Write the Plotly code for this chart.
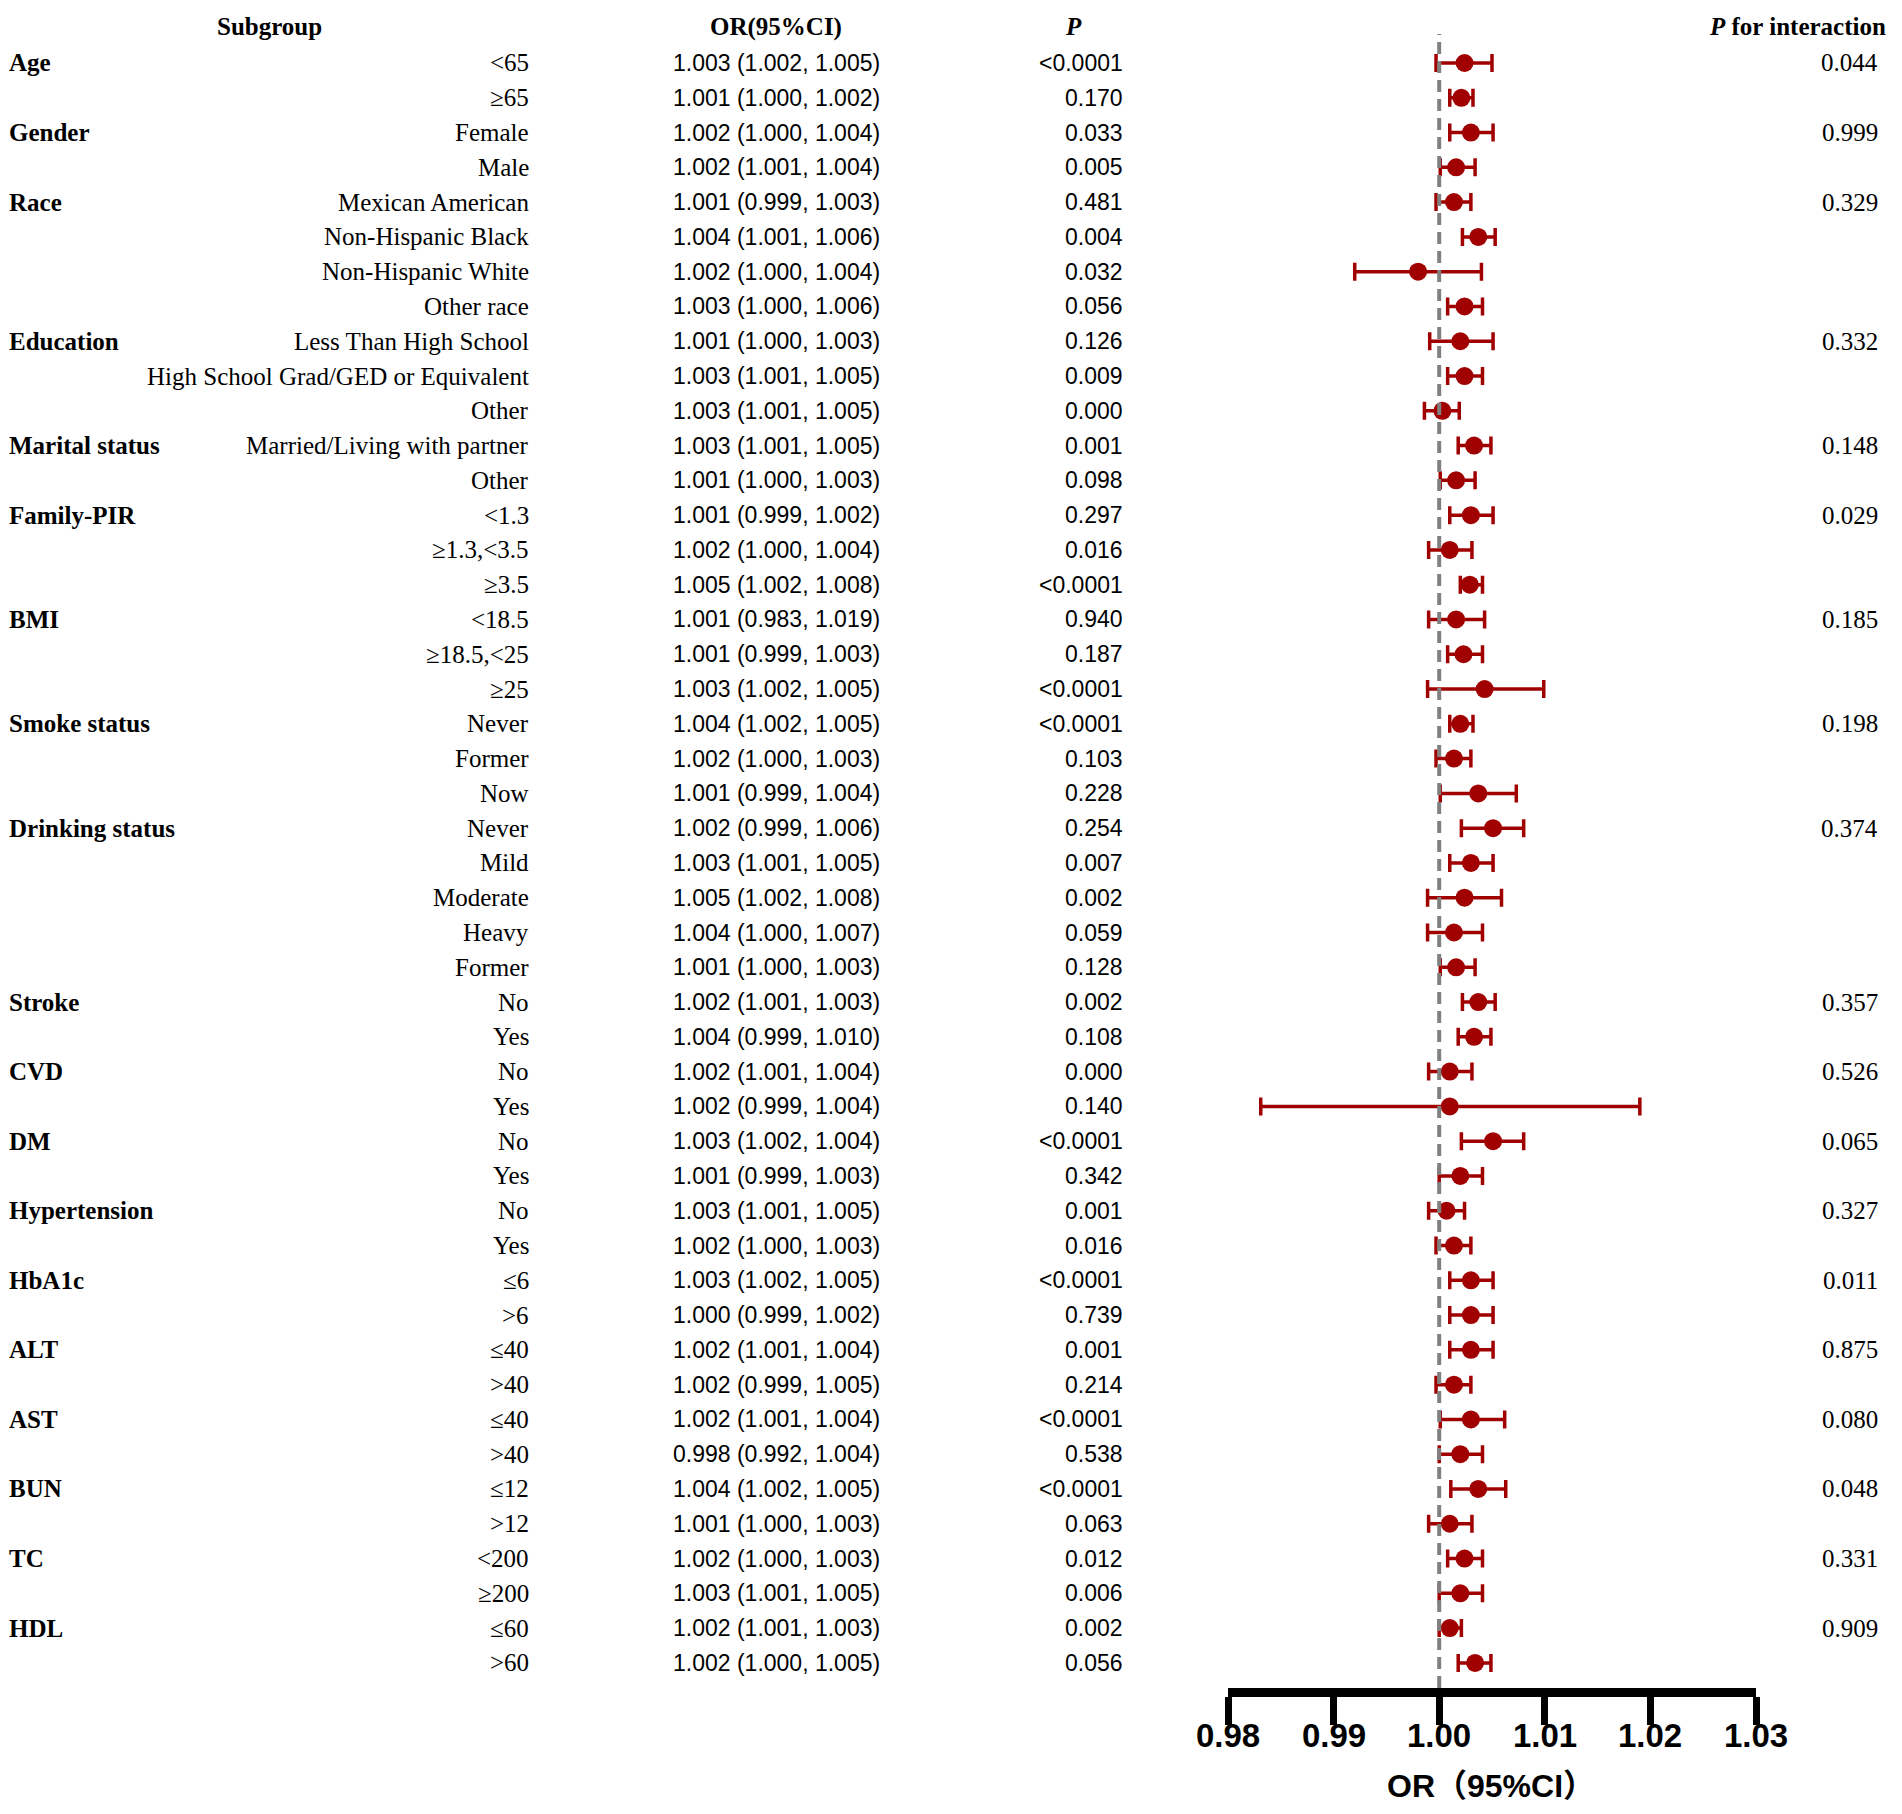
import plotly.graph_objects as go

# ---- data ----
groups = ["Age", "Gender", "Race", "Education", "Marital status", "Family-PIR", "BMI",
          "Smoke status", "Drinking status", "Stroke", "CVD", "DM", "Hypertension",
          "HbA1c", "ALT", "AST", "BUN", "TC", "HDL"]
group_sizes = [2, 2, 4, 3, 2, 3, 3, 3, 5, 2, 2, 2, 2, 2, 2, 2, 2, 2, 2]
p_interaction = ["0.044", "0.999", "0.329", "0.332", "0.148", "0.029", "0.185", "0.198",
                 "0.374", "0.357", "0.526", "0.065", "0.327", "0.011", "0.875", "0.080",
                 "0.048", "0.331", "0.909"]

subgroups = ["<65", "≥65", "Female", "Male", "Mexican American", "Non-Hispanic Black",
             "Non-Hispanic White", "Other race", "Less Than High School",
             "High School Grad/GED or Equivalent", "Other", "Married/Living with partner",
             "Other", "<1.3", "≥1.3,<3.5", "≥3.5", "<18.5", "≥18.5,<25", "≥25",
             "Never", "Former", "Now", "Never", "Mild", "Moderate", "Heavy", "Former",
             "No", "Yes", "No", "Yes", "No", "Yes", "No", "Yes", "≤6", ">6", "≤40", ">40",
             "≤40", ">40", "≤12", ">12", "<200", "≥200", "≤60", ">60"]

or_text = ["1.003 (1.002, 1.005)", "1.001 (1.000, 1.002)", "1.002 (1.000, 1.004)",
           "1.002 (1.001, 1.004)", "1.001 (0.999, 1.003)", "1.004 (1.001, 1.006)",
           "1.002 (1.000, 1.004)", "1.003 (1.000, 1.006)", "1.001 (1.000, 1.003)",
           "1.003 (1.001, 1.005)", "1.003 (1.001, 1.005)", "1.003 (1.001, 1.005)",
           "1.001 (1.000, 1.003)", "1.001 (0.999, 1.002)", "1.002 (1.000, 1.004)",
           "1.005 (1.002, 1.008)", "1.001 (0.983, 1.019)", "1.001 (0.999, 1.003)",
           "1.003 (1.002, 1.005)", "1.004 (1.002, 1.005)", "1.002 (1.000, 1.003)",
           "1.001 (0.999, 1.004)", "1.002 (0.999, 1.006)", "1.003 (1.001, 1.005)",
           "1.005 (1.002, 1.008)", "1.004 (1.000, 1.007)", "1.001 (1.000, 1.003)",
           "1.002 (1.001, 1.003)", "1.004 (0.999, 1.010)", "1.002 (1.001, 1.004)",
           "1.002 (0.999, 1.004)", "1.003 (1.002, 1.004)", "1.001 (0.999, 1.003)",
           "1.003 (1.001, 1.005)", "1.002 (1.000, 1.003)", "1.003 (1.002, 1.005)",
           "1.000 (0.999, 1.002)", "1.002 (1.001, 1.004)", "1.002 (0.999, 1.005)",
           "1.002 (1.001, 1.004)", "0.998 (0.992, 1.004)", "1.004 (1.002, 1.005)",
           "1.001 (1.000, 1.003)", "1.002 (1.000, 1.003)", "1.003 (1.001, 1.005)",
           "1.002 (1.001, 1.003)", "1.002 (1.000, 1.005)"]

p_values = ["<0.0001", "0.170", "0.033", "0.005", "0.481", "0.004", "0.032", "0.056",
            "0.126", "0.009", "0.000", "0.001", "0.098", "0.297", "0.016", "<0.0001",
            "0.940", "0.187", "<0.0001", "<0.0001", "0.103", "0.228", "0.254", "0.007",
            "0.002", "0.059", "0.128", "0.002", "0.108", "0.000", "0.140", "<0.0001",
            "0.342", "0.001", "0.016", "<0.0001", "0.739", "0.001", "0.214", "<0.0001",
            "0.538", "<0.0001", "0.063", "0.012", "0.006", "0.002", "0.056"]

# plotted points (as drawn in the figure)
or_point = [1.0024, 1.0021, 1.0030, 1.0016, 1.0014, 1.0037, 0.9980, 1.0024, 1.0020,
            1.0024, 1.0003, 1.0033, 1.0016, 1.0030, 1.0010, 1.0029, 1.0016, 1.0023,
            1.0043, 1.0020, 1.0014, 1.0037, 1.0051, 1.0030, 1.0024, 1.0014, 1.0016,
            1.0037, 1.0033, 1.0010, 1.0010, 1.0051, 1.0020, 1.0007, 1.0014, 1.0030,
            1.0030, 1.0030, 1.0014, 1.0030, 1.0020, 1.0037, 1.0010, 1.0024, 1.0020,
            1.0010, 1.0034]
ci_low = [0.9997, 1.0010, 1.0010, 1.0001, 0.9997, 1.0022, 0.9920, 1.0008, 0.9991,
          1.0008, 0.9986, 1.0018, 1.0001, 1.0010, 0.9990, 1.0020, 0.9990, 1.0008,
          0.9989, 1.0010, 0.9997, 1.0001, 1.0021, 1.0010, 0.9989, 0.9989, 1.0001,
          1.0022, 1.0018, 0.9990, 0.9831, 1.0021, 1.0000, 0.9990, 0.9997, 1.0010,
          1.0010, 1.0010, 0.9997, 1.0001, 1.0000, 1.0011, 0.9990, 1.0008, 1.0000,
          1.0000, 1.0018]
ci_high = [1.0050, 1.0032, 1.0051, 1.0034, 1.0030, 1.0053, 1.0040, 1.0041, 1.0051,
           1.0041, 1.0019, 1.0049, 1.0034, 1.0051, 1.0031, 1.0041, 1.0043, 1.0041,
           1.0099, 1.0032, 1.0030, 1.0073, 1.0080, 1.0051, 1.0059, 1.0041, 1.0034,
           1.0053, 1.0049, 1.0031, 1.0190, 1.0080, 1.0041, 1.0024, 1.0030, 1.0051,
           1.0051, 1.0051, 1.0030, 1.0062, 1.0041, 1.0063, 1.0031, 1.0041, 1.0041,
           1.0021, 1.0049]

x_ticks = [0.98, 0.99, 1.00, 1.01, 1.02, 1.03]

W, H = 1902, 1814
rows = list(range(len(subgroups)))
RED = "#A00000"
SERIF = "Liberation Serif, Times New Roman, serif"
SANS = "Liberation Sans, Arial, sans-serif"


def px(x):
    return x / W


def py(y):
    return 1 - y / H


fig = go.Figure()

fig.add_trace(go.Scatter(
    x=or_point, y=rows, mode="markers",
    marker=dict(size=18, color=RED, symbol="circle"),
    error_x=dict(type="data", symmetric=False,
                 array=[h - p for h, p in zip(ci_high, or_point)],
                 arrayminus=[p - l for p, l in zip(or_point, ci_low)],
                 color=RED, thickness=3.5, width=9),
    cliponaxis=False, showlegend=False, hoverinfo="skip"))

ann = []
txt = dict(family=SERIF, size=25, color="black")
num = dict(family=SANS, size=23, color="black")

# headers
hy = -1.04
ann.append(dict(x=px(269), y=hy, text="<b>Subgroup</b>", xanchor="center", font=txt))
ann.append(dict(x=px(776), y=hy, text="<b>OR(95%CI)</b>", xanchor="center", font=txt))
ann.append(dict(x=px(1073), y=hy, text="<b><i>P</i></b>", xanchor="center", font=txt))
ann.append(dict(x=px(1888), y=hy, text="<b><i>P</i> for interaction</b>",
                xanchor="right", font=txt))

# group labels and interaction p
start = 0
for g, n, pi in zip(groups, group_sizes, p_interaction):
    ann.append(dict(x=px(7), y=start, text="<b>" + g + "</b>", xanchor="left", font=txt))
    ann.append(dict(x=px(1880), y=start, text=pi, xanchor="right", font=txt))
    start += n

for r, s, o, p in zip(rows, subgroups, or_text, p_values):
    ann.append(dict(x=px(531), y=r, text=s, xanchor="right", font=txt))
    ann.append(dict(x=px(776), y=r, text=o, xanchor="center", font=num))
    ann.append(dict(x=px(1125), y=r, text=p, xanchor="right", font=num))

for a in ann:
    a.update(xref="paper", yref="y", yanchor="middle", showarrow=False)

# x tick labels (placed close under the thick ticks)
for t in x_ticks:
    ann.append(dict(x=t, xref="x", y=py(1735), yref="paper", text="<b>%.2f</b>" % t,
                    showarrow=False, xanchor="center", yanchor="middle",
                    font=dict(family="Liberation Sans Narrow, Liberation Sans, Arial",
                              size=33, color="black")))

# axis title
ann.append(dict(x=px(1491), y=py(1786), xref="paper", yref="paper",
                text="<b>OR（95%CI）</b>", showarrow=False, xanchor="center",
                yanchor="middle",
                font=dict(family="Liberation Sans, Noto Sans CJK SC, sans-serif",
                          size=32, color="black")))

y_top, y_bot = 10, 1688
row_h = 34.78
r_top = -(63 - y_top) / row_h
r_bot = (y_bot - 63) / row_h

fig.add_shape(type="line", xref="x", yref="paper", x0=1.0, x1=1.0,
              y0=py(y_bot), y1=py(34),
              line=dict(color="#808080", width=4, dash="12px,7px"))

fig.update_layout(
    width=W, height=H,
    margin=dict(l=0, r=0, t=0, b=0, pad=0, autoexpand=False),
    paper_bgcolor="white", plot_bgcolor="white",
    annotations=ann,
    xaxis=dict(domain=[px(1228), px(1756)], range=[0.98, 1.03],
               tickvals=x_ticks, showticklabels=False, automargin=False,
               showline=True, linewidth=9, linecolor="black",
               ticks="outside", ticklen=28, tickwidth=7, tickcolor="black",
               showgrid=False, zeroline=False, fixedrange=True),
    yaxis=dict(domain=[py(y_bot), py(y_top)], range=[r_bot, r_top],
               visible=False, automargin=False, fixedrange=True),
)

fig.write_html("out.html", config={"displayModeBar": False},
               post_script="document.body.style.margin='0px';")
